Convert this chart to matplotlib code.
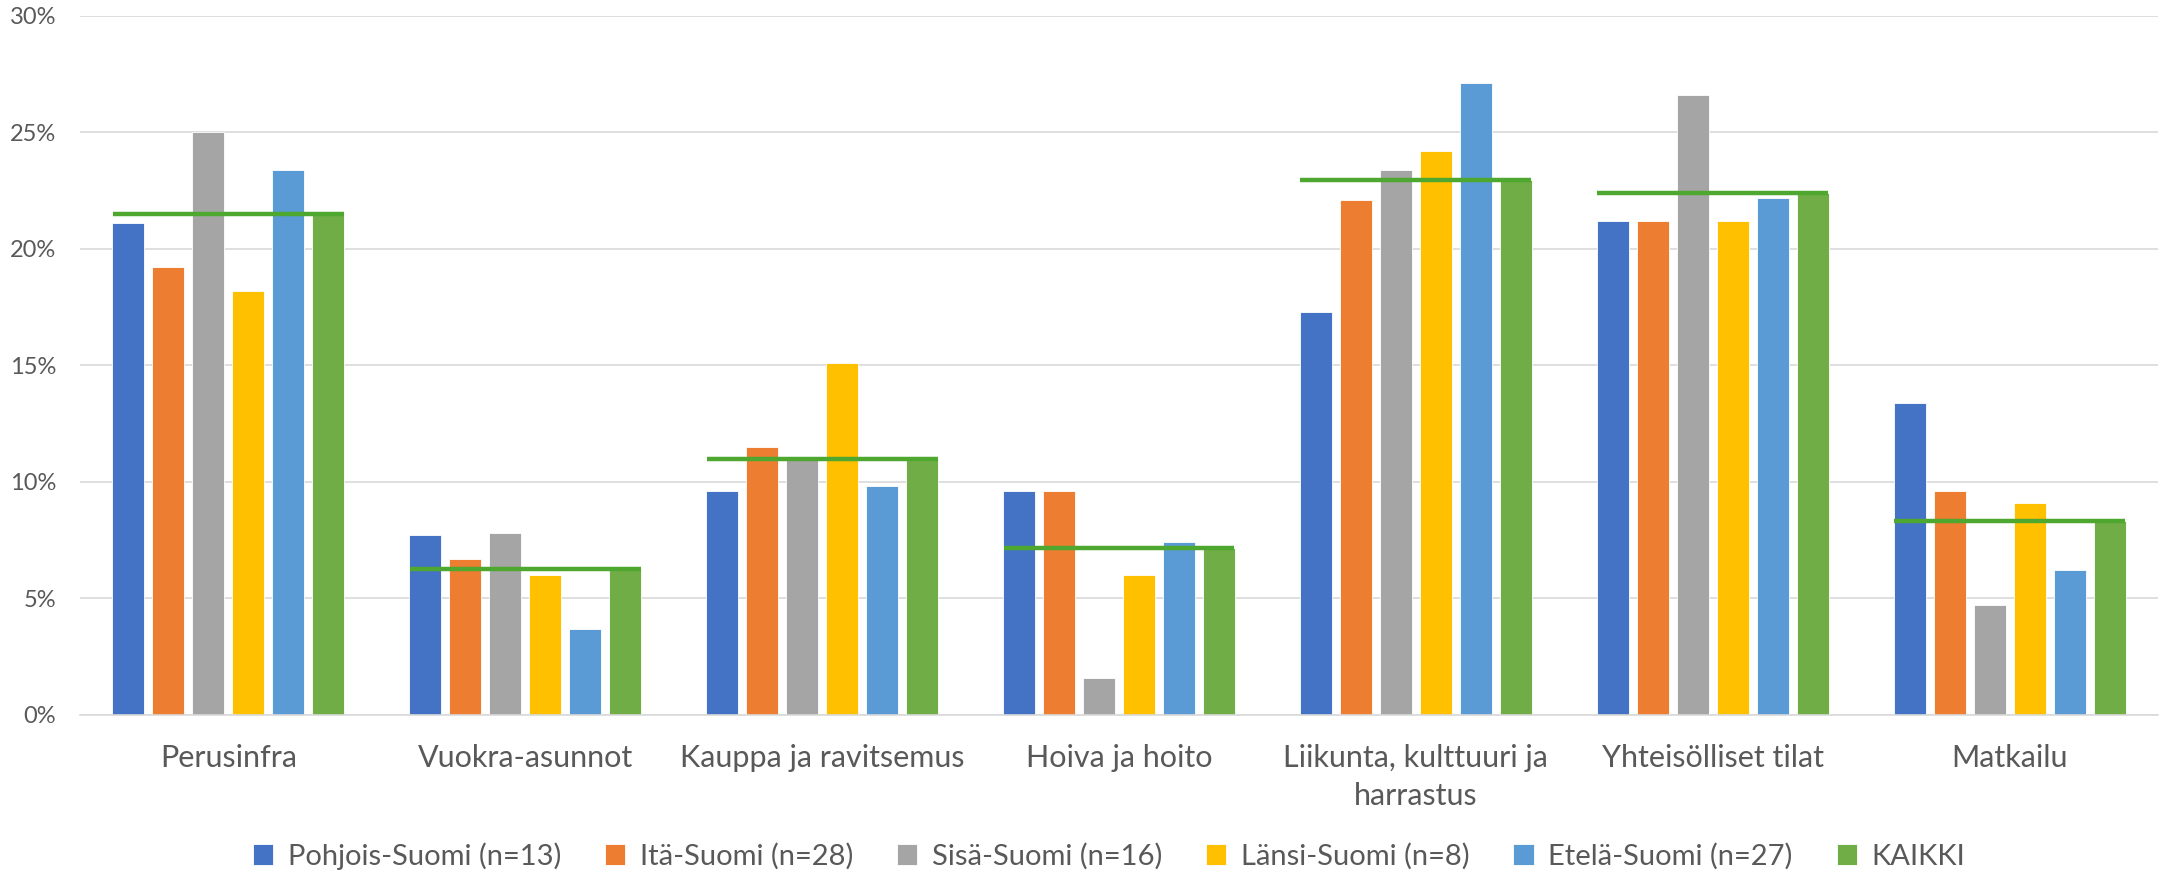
import numpy as np
import matplotlib.pyplot as plt
from matplotlib.ticker import PercentFormatter

plt.rcParams['font.family'] = ['Lato', 'DejaVu Sans']

categories = ["Perusinfra", "Vuokra-asunnot", "Kauppa ja ravitsemus", "Hoiva ja hoito",
              "Liikunta, kulttuuri ja\nharrastus", "Yhteisölliset tilat", "Matkailu"]
series_names = ["Pohjois-Suomi (n=13)", "Itä-Suomi (n=28)", "Sisä-Suomi (n=16)",
                "Länsi-Suomi (n=8)", "Etelä-Suomi (n=27)", "KAIKKI"]
pohjois = [21.1, 7.7, 9.6, 9.6, 17.3, 21.2, 13.4]
ita = [19.2, 6.7, 11.5, 9.6, 22.1, 21.2, 9.6]
sisa = [25.0, 7.8, 11.0, 1.6, 23.4, 26.6, 4.7]
lansi = [18.2, 6.0, 15.1, 6.0, 24.2, 21.2, 9.1]
etela = [23.4, 3.7, 9.8, 7.4, 27.1, 22.2, 6.2]
kaikki = [21.5, 6.25, 11.0, 7.15, 22.95, 22.4, 8.3]

colors = ['#4472C4', '#ED7D31', '#A5A5A5', '#FFC000', '#5B9BD5', '#70AD47']
line_color = '#4EA72E'
text_color = '#595959'

fig = plt.figure(figsize=(21.83, 8.75), dpi=100)
ax = fig.add_axes([0.0366, 0.183, 0.952, 0.799])

x = np.arange(len(categories))
pitch = 0.1347
width = 0.108
all_series = [pohjois, ita, sisa, lansi, etela, kaikki]
for j, vals in enumerate(all_series):
    ax.bar(x + (j - 2.5) * pitch, vals, width, color=colors[j], label=series_names[j],
           edgecolor='white', linewidth=0.6, zorder=2)

# KAIKKI average line over each group
ax.hlines(kaikki, x - 0.389, x + 0.389, color=line_color, linewidth=3.2, zorder=3)

ax.set_xlim(-0.5, len(categories) - 0.5)
ax.set_ylim(0, 30)
ax.set_yticks(np.arange(0, 31, 5))
ax.yaxis.set_major_formatter(PercentFormatter(decimals=0))
ax.set_xticks(x)
ax.set_xticklabels(categories, linespacing=1.45)
ax.grid(axis='y', color='#D9D9D9', linewidth=1.2, zorder=0)
ax.set_axisbelow(True)
for s in ['top', 'right', 'left']:
    ax.spines[s].set_visible(False)
ax.spines['bottom'].set_color('#D9D9D9')
ax.spines['bottom'].set_linewidth(1.2)
ax.tick_params(axis='x', length=0, labelsize=22, colors=text_color, pad=21)
ax.tick_params(axis='y', length=0, labelsize=17, colors=text_color, pad=17)

ax.legend(loc='center', bbox_to_anchor=(0.508, 0.022), bbox_transform=fig.transFigure,
          ncol=6, frameon=False, fontsize=21, labelcolor=text_color,
          handlelength=0.7, handleheight=0.7, columnspacing=1.5, handletextpad=0.5)

fig.savefig('out.png', dpi=100)
